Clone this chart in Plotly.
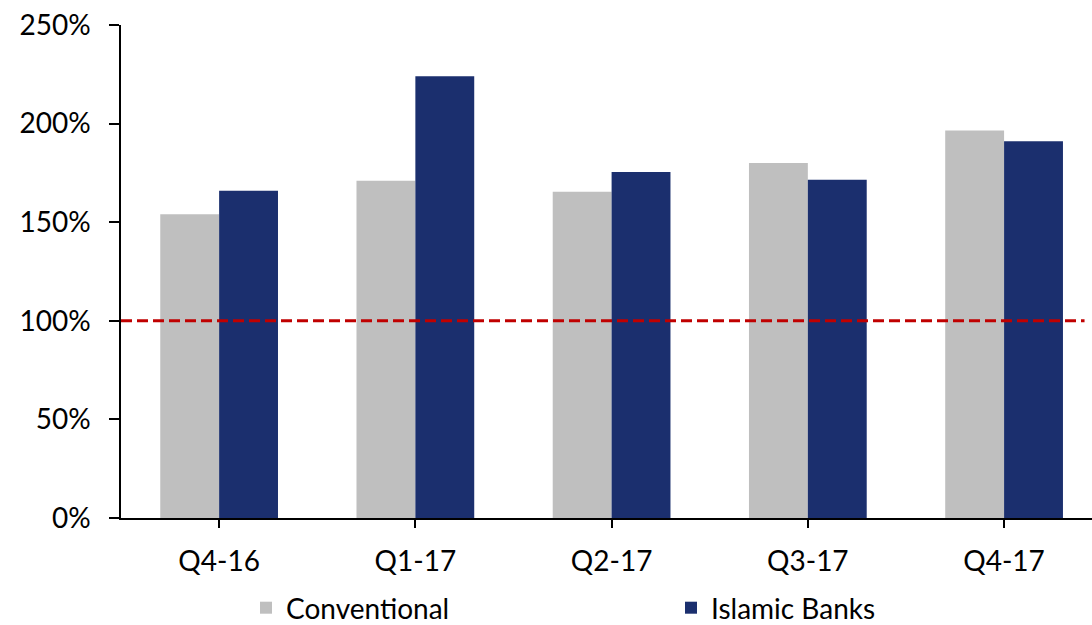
import plotly.graph_objects as go

categories = ["Q4-16", "Q1-17", "Q2-17", "Q3-17", "Q4-17"]
conventional = [154, 171, 165.5, 180, 196.5]
islamic = [166, 224, 175.5, 171.5, 191]
threshold = 100
y_ticks = [0, 50, 100, 150, 200, 250]
y_tick_labels = ["0%", "50%", "100%", "150%", "200%", "250%"]

FONT = "Lato"
fig = go.Figure()
fig.add_trace(go.Bar(x=categories, y=conventional, name="Conventional",
                     marker=dict(color="#BFBFBF", line=dict(width=0))))
fig.add_trace(go.Bar(x=categories, y=islamic, name="Islamic Banks",
                     marker=dict(color="#1B2F6E", line=dict(width=0))))

fig.add_shape(type="line", xref="x", yref="y", x0=-0.5, x1=4.41,
              y0=threshold, y1=threshold,
              line=dict(color="#C00000", width=3, dash="11px,5px"))

fig.update_layout(
    width=1092, height=625,
    margin=dict(l=121, r=0, t=25, b=107),
    paper_bgcolor="white", plot_bgcolor="white",
    barmode="group", bargap=0.4, bargroupgap=0,
    font=dict(family=FONT, size=28, color="black"),
    showlegend=True,
    legend=dict(orientation="h", xref="container", yref="container",
                x=246/1092, xanchor="left", y=1 - 608/625, yanchor="middle",
                entrywidth=380, entrywidthmode="pixels",
                font=dict(family=FONT, size=28, color="black"),
                bgcolor="rgba(0,0,0,0)"),
    xaxis=dict(range=[-0.5, 4.448], showline=True, linecolor="black", linewidth=1.5,
               ticks="outside", ticklen=8, tickcolor="black", tickwidth=1.5,
               showgrid=False, zeroline=False, ticklabelstandoff=10),
    yaxis=dict(range=[0, 250], tickvals=y_ticks, ticktext=y_tick_labels,
               showline=True, linecolor="black", linewidth=1.5,
               ticks="outside", ticklen=10, tickcolor="black", tickwidth=1.5,
               showgrid=False, zeroline=False, ticklabelstandoff=13),
)

fig.write_html("out.html")
